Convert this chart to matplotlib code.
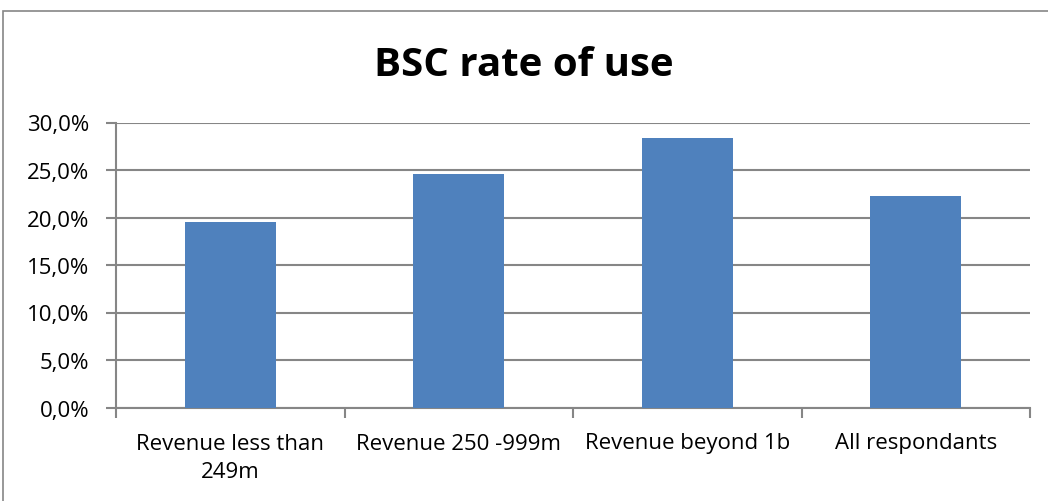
import matplotlib
matplotlib.use("Agg")
import matplotlib.pyplot as plt
from matplotlib.ticker import FuncFormatter, FixedLocator
from matplotlib.patches import Rectangle

categories = ["Revenue less than\n249m", "Revenue 250 -999m", "Revenue beyond 1b", "All respondants"]
values = [19.5, 24.6, 28.4, 22.3]
yticks = [0, 5, 10, 15, 20, 25, 30]
title = "BSC rate of use"

plt.rcParams['font.family'] = ['Open Sans', 'DejaVu Sans']

fig = plt.figure(figsize=(10.48, 5.02), dpi=100)
ax = fig.add_axes([116/1048, 1-408.5/502, (1030-116)/1048, (408.5-123.5)/502])

grid_col = "#868686"
x = list(range(len(categories)))
ax.bar(x, values, width=0.4, color="#4F81BD", zorder=3)
ax.set_xlim(-0.5, len(categories)-0.5)
ax.set_ylim(0, 30)
ax.set_yticks(yticks)
ax.yaxis.set_major_formatter(FuncFormatter(lambda v, p: f"{v:.1f}".replace(".", ",") + "%"))
ax.grid(axis='y', color=grid_col, linewidth=1.5, zorder=0)
ax.set_axisbelow(True)

ax.set_xticks(x)
ax.set_xticklabels(categories, fontsize=16, linespacing=1.45)
ax.xaxis.set_minor_locator(FixedLocator([i - 0.5 for i in range(len(categories)+1)]))
ax.tick_params(axis='x', which='major', length=0, pad=18)
ax.tick_params(axis='x', which='minor', length=7, width=1.5, color=grid_col, direction='out')
ax.tick_params(axis='y', length=7, width=1.5, color=grid_col, labelsize=16, pad=12)

for s in ['top', 'right']:
    ax.spines[s].set_visible(False)
for s in ['left', 'bottom']:
    ax.spines[s].set_color(grid_col)
    ax.spines[s].set_linewidth(1.5)

fig.text(0.5, 1-65/502, title, ha='center', va='center', fontsize=29, fontweight='bold')

fig.patches.append(Rectangle((3/1048, -0.1), 1.2, 1-12/502+0.1, transform=fig.transFigure,
                             fill=False, edgecolor="#868686", linewidth=1.2))

fig.savefig("out.png", dpi=100)
